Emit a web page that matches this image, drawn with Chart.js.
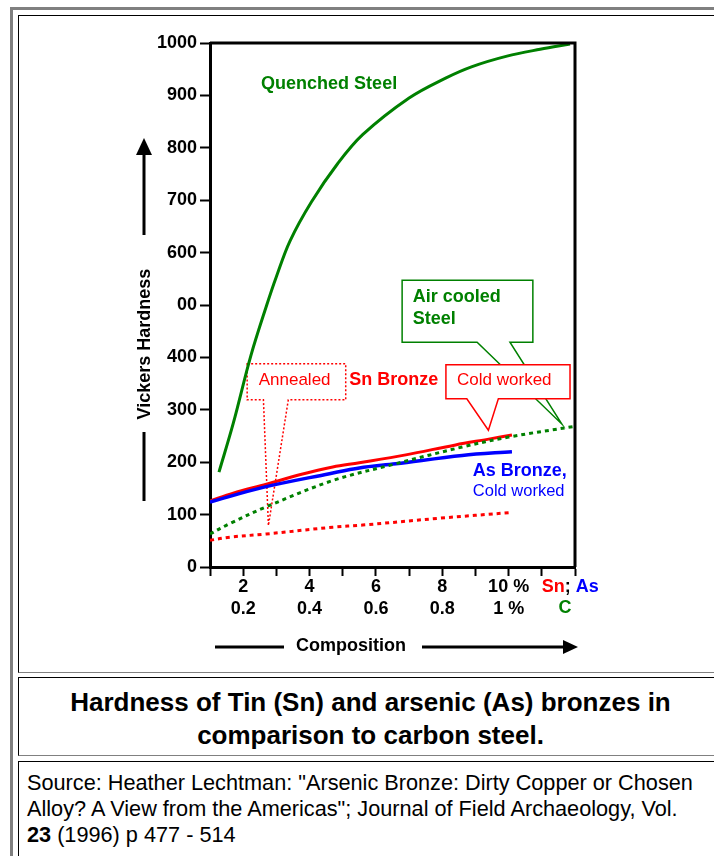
<!DOCTYPE html>
<html>
<head>
<meta charset="utf-8">
<title>Hardness of Sn and As bronzes vs carbon steel</title>
<script src="https://cdn.jsdelivr.net/npm/chart.js@4.4.1/dist/chart.umd.min.js"></script>
<style>
  html, body { margin: 0; padding: 0; background: #fff; overflow: hidden; }
  body { width: 714px; height: 856px; position: relative; font-family: "Liberation Sans", Arial, sans-serif; color: #000; }
  .cornice { position: absolute; left: 10px; top: 7px; width: 800px; height: 900px; border-left: 3px solid #808080; border-top: 3px solid #808080; }
  .cella { position: absolute; left: 18px; width: 704px; box-sizing: border-box; border-top: 1px solid #000; border-left: 1px solid #000; border-bottom: 1px solid #808080; }
  #cella-grafico { top: 15px; height: 658px; }
  #cella-titolo { top: 677px; height: 79px; padding-top: 8px; text-align: center; font-weight: bold; font-size: 26px; line-height: 33px; white-space: nowrap; }
  #cella-fonte { top: 761px; width: 760px; height: 120px; border-bottom: none; padding: 8px 0 0 8px; font-size: 21.7px; line-height: 26px; white-space: nowrap; }
  #contenitore { position: absolute; left: 0; top: 0; width: 714px; height: 672px; }
</style>
</head>
<body>
<div class="cornice"></div>
<div class="cella" id="cella-grafico"></div>
<div class="cella" id="cella-titolo">Hardness of Tin (Sn) and arsenic (As) bronzes in<br>comparison to carbon steel.</div>
<div class="cella" id="cella-fonte">Source: Heather Lechtman: "Arsenic Bronze: Dirty Copper or Chosen<br>Alloy? A View from the Americas"; Journal of Field Archaeology, Vol.<br><b>23</b> (1996) p 477 - 514</div>
<div id="contenitore"><canvas id="grafico-durezza"></canvas></div>

<script>
// ============================================================
// DUREZZA - Vickers hardness of bronzes vs carbon steel
// ============================================================

// x = % Sn / As (steel: % C x 10), y = Vickers hardness
const quenchedSteelX = [1.27, 1.7, 2.23, 2.71, 3.0, 3.41, 4.06, 4.85, 5.6, 7.0, 8.1, 8.9, 9.95, 10.95, 11.85];
const quenchedSteelY = [181, 274, 403, 500, 554, 622, 697, 770, 825, 895, 933, 955, 975, 988, 998];

const airCooledSteelX = [1, 1.6, 2.7, 4.7, 6.6, 8.6, 10.0, 11.95];
const airCooledSteelY = [63, 83, 115, 165, 197, 229, 248, 268];

const snColdWorkedX = [1, 1.7, 2.7, 3.7, 4.7, 5.5, 6.9, 8.4, 9.4, 10.1];
const snColdWorkedY = [126, 141, 158, 176, 191, 199, 214, 233, 244, 252];

const snAnnealedX = [1, 1.6, 2.7, 4.7, 5.6, 7.9, 10.08];
const snAnnealedY = [51, 57, 63, 76, 80, 93, 104];

const asColdWorkedX = [1, 2.6, 4.6, 5.5, 6.6, 8.6, 10.1];
const asColdWorkedY = [124, 152, 178, 189, 197, 213, 220];

const yTickValues = [0, 100, 200, 300, 400, 500, 600, 700, 800, 900, 1000];
const yTickLabels = ["0", "100", "200", "300", "400", "00", "600", "700", "800", "900", "1000"];

const xTickValues = [2, 4, 6, 8, 10];
const xTickLabelsSnAs = ["2", "4", "6", "8", "10 %"];
const xTickLabelsC = ["0.2", "0.4", "0.6", "0.8", "1 %"];

const Durezza = (function () {
  const VERDE = "#008000";
  const ROSSO = "#ff0000";
  const BLU = "#0000ff";
  const FONT = "\"Liberation Sans\", Arial, sans-serif";

  function punti(xs, ys) {
    return xs.map(function (x, i) { return { x: x, y: ys[i] }; });
  }

  function testo(ctx, str, x, y, colore, peso, allinea, corpo) {
    ctx.font = (peso || "bold") + " " + (corpo || 18) + "px " + FONT;
    ctx.fillStyle = colore;
    ctx.textAlign = allinea || "left";
    ctx.textBaseline = "middle";
    ctx.fillText(str, x, y);
  }

  /**
   * Fumetto (box con punta) in coordinate dei dati.
   */
  function fumetto(ctx, sx, sy, f) {
    const l = sx.getPixelForValue(f.x0), r = sx.getPixelForValue(f.x1);
    const t = sy.getPixelForValue(f.y1), b = sy.getPixelForValue(f.y0);
    ctx.save();
    ctx.beginPath();
    ctx.moveTo(l, t);
    ctx.lineTo(r, t);
    ctx.lineTo(r, b);
    ctx.lineTo(sx.getPixelForValue(f.base1), b);
    ctx.lineTo(sx.getPixelForValue(f.puntaX), sy.getPixelForValue(f.puntaY));
    ctx.lineTo(sx.getPixelForValue(f.base0), b);
    ctx.lineTo(l, b);
    ctx.closePath();
    ctx.fillStyle = "#fff";
    ctx.fill();
    ctx.strokeStyle = f.colore;
    ctx.lineWidth = f.spessore;
    ctx.setLineDash(f.tratteggio || []);
    ctx.stroke();
    ctx.restore();
  }

  const pluginFumetti = {
    id: "fumetti",
    beforeDatasetsDraw: function (chart) {
      const ctx = chart.ctx, sx = chart.scales.x, sy = chart.scales.y;
      fumetto(ctx, sx, sy, { x0: 6.79, x1: 10.73, y0: 429, y1: 547, base0: 9.05, base1: 10.04, puntaX: 11.6, puntaY: 273, colore: VERDE, spessore: 1.5 });
      fumetto(ctx, sx, sy, { x0: 2.12, x1: 5.09, y0: 319, y1: 388, base0: 2.61, base1: 3.36, puntaX: 2.76, puntaY: 79, colore: ROSSO, spessore: 1.5, tratteggio: [2, 2] });
      fumetto(ctx, sx, sy, { x0: 8.11, x1: 11.85, y0: 321, y1: 386, base0: 8.74, base1: 9.69, puntaX: 9.39, puntaY: 261, colore: ROSSO, spessore: 1.5 });

      ctx.save();
      testo(ctx, "Air cooled", sx.getPixelForValue(7.11), sy.getPixelForValue(515), VERDE);
      testo(ctx, "Steel", sx.getPixelForValue(7.11), sy.getPixelForValue(473), VERDE);
      testo(ctx, "Cold worked", sx.getPixelForValue(9.87), sy.getPixelForValue(356), ROSSO, "normal", "center", 17);
      testo(ctx, "Annealed", sx.getPixelForValue(3.55), sy.getPixelForValue(357), ROSSO, "normal", "center", 17);
      ctx.restore();
    },
    afterDatasetsDraw: function (chart) {
      const ctx = chart.ctx, sx = chart.scales.x, sy = chart.scales.y;
      ctx.save();
      testo(ctx, "Quenched Steel", sx.getPixelForValue(4.59), sy.getPixelForValue(922), VERDE, "bold", "center");
      testo(ctx, "Sn Bronze", sx.getPixelForValue(5.2), sy.getPixelForValue(356), ROSSO);
      testo(ctx, "As Bronze,", sx.getPixelForValue(8.92), sy.getPixelForValue(183), BLU);
      testo(ctx, "Cold worked", sx.getPixelForValue(8.92), sy.getPixelForValue(145), BLU, "normal", "left", 16.5);
      ctx.restore();
    }
  };

  const pluginCornice = {
    id: "cornice",
    afterDraw: function (chart) {
      const ctx = chart.ctx, a = chart.chartArea, sx = chart.scales.x;
      ctx.save();
      ctx.strokeStyle = "#000";
      ctx.fillStyle = "#000";
      ctx.lineWidth = 3;
      ctx.beginPath();
      ctx.moveTo(a.left, a.top);
      ctx.lineTo(a.right, a.top);
      ctx.lineTo(a.right, a.bottom);
      ctx.stroke();

      // titolo asse y con freccia
      const ty = a.left - 66;
      ctx.save();
      ctx.translate(ty + 1, 344);
      ctx.rotate(-Math.PI / 2);
      testo(ctx, "Vickers Hardness", 0, 0, "#000", "bold", "center");
      ctx.restore();
      ctx.beginPath();
      ctx.moveTo(ty, 235);
      ctx.lineTo(ty, 152);
      ctx.moveTo(ty, 432);
      ctx.lineTo(ty, 501);
      ctx.stroke();
      ctx.beginPath();
      ctx.moveTo(ty, 138);
      ctx.lineTo(ty - 8, 155);
      ctx.lineTo(ty + 8, 155);
      ctx.closePath();
      ctx.fill();

      // titolo asse x con freccia
      const tx = 647;
      testo(ctx, "Composition", 351, tx - 1, "#000", "bold", "center");
      ctx.beginPath();
      ctx.moveTo(215, tx);
      ctx.lineTo(284, tx);
      ctx.moveTo(422, tx);
      ctx.lineTo(565, tx);
      ctx.stroke();
      ctx.beginPath();
      ctx.moveTo(578, tx);
      ctx.lineTo(563, tx - 7);
      ctx.lineTo(563, tx + 7);
      ctx.closePath();
      ctx.fill();

      // etichette colorate accanto ai tick
      const r1 = a.bottom + 20, r2 = a.bottom + 41;
      let x = sx.getPixelForValue(11);
      ctx.font = "bold 18px " + FONT;
      testo(ctx, "Sn", x, r1, ROSSO);
      x += ctx.measureText("Sn").width;
      testo(ctx, ";", x, r1, "#000");
      x += ctx.measureText("; ").width;
      testo(ctx, "As", x, r1, BLU);
      testo(ctx, "C", sx.getPixelForValue(11.7), r2, VERDE, "bold", "center");
      ctx.restore();
    }
  };

  function serie(xs, ys, colore, spessore, tratteggio) {
    return {
      data: punti(xs, ys),
      borderColor: colore,
      backgroundColor: colore,
      borderWidth: spessore,
      borderDash: tratteggio || [],
      pointRadius: 0,
      fill: false,
      tension: 0.35
    };
  }

  function disegna() {
    const canvas = document.getElementById("grafico-durezza");
    const fontTick = { family: FONT, size: 18, weight: "bold", lineHeight: 1.17 };

    return new Chart(canvas, {
      type: "line",
      data: {
        datasets: [
          serie(airCooledSteelX, airCooledSteelY, VERDE, 3, [4, 4]),
          serie(snAnnealedX, snAnnealedY, ROSSO, 3, [4, 4]),
          serie(asColdWorkedX, asColdWorkedY, BLU, 3.5),
          serie(snColdWorkedX, snColdWorkedY, ROSSO, 3),
          serie(quenchedSteelX, quenchedSteelY, VERDE, 3)
        ]
      },
      options: {
        responsive: true,
        maintainAspectRatio: false,
        animation: false,
        devicePixelRatio: 1,
        layout: { padding: { left: 0, right: 139, top: 43, bottom: 0 } },
        plugins: { legend: { display: false }, tooltip: { enabled: false } },
        scales: {
          x: {
            type: "linear",
            min: 1,
            max: 12,
            ticks: {
              stepSize: 1,
              autoSkip: false,
              maxRotation: 0,
              padding: 1,
              color: "#000",
              font: fontTick,
              callback: function (v) {
                const i = xTickValues.indexOf(v);
                return i < 0 ? "" : [xTickLabelsSnAs[i], xTickLabelsC[i]];
              }
            },
            grid: { drawOnChartArea: false, tickLength: 9, tickColor: "#000", tickWidth: 2 },
            border: { color: "#000", width: 3 },
            afterFit: function (scale) { scale.height = 105; }
          },
          y: {
            type: "linear",
            min: 0,
            max: 1000,
            afterBuildTicks: function (scale) {
              scale.ticks = yTickValues.map(function (v) { return { value: v }; });
            },
            ticks: {
              padding: 3,
              color: "#000",
              font: fontTick,
              callback: function (v) { return yTickLabels[yTickValues.indexOf(v)]; }
            },
            grid: { drawOnChartArea: false, tickLength: 10, tickColor: "#000", tickWidth: 2 },
            border: { color: "#000", width: 3 },
            afterFit: function (scale) { scale.width = 210; }
          }
        }
      },
      plugins: [pluginFumetti, pluginCornice]
    });
  }

  return { disegna: disegna };
})();

Durezza.disegna();
</script>
</body>
</html>
